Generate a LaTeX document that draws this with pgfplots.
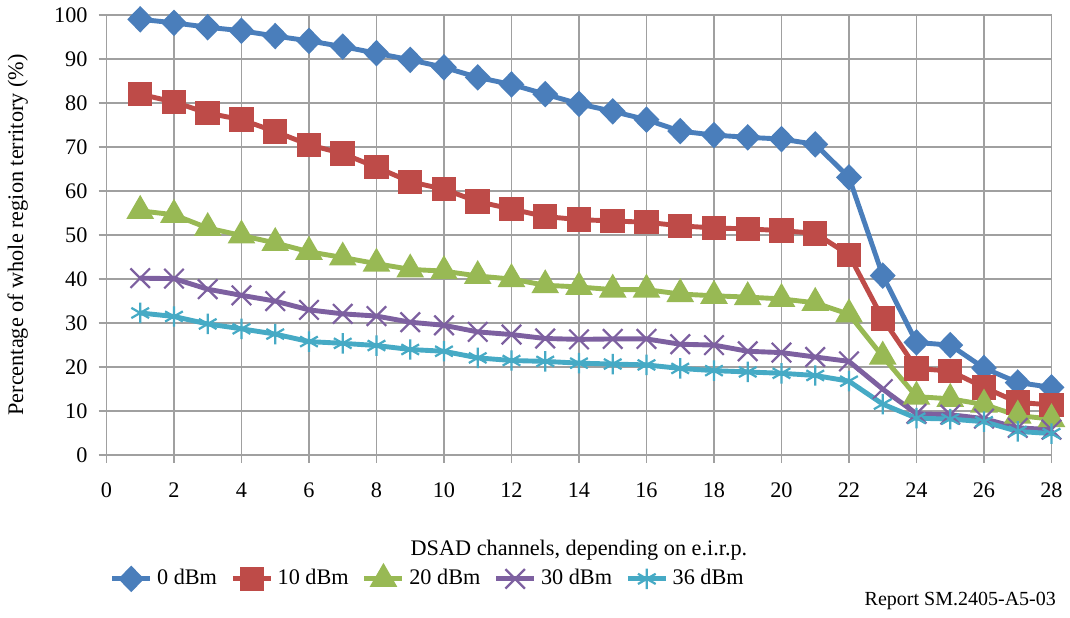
\documentclass[border=0pt]{standalone}
\usepackage{fontspec}
\setmainfont{Liberation Serif}
\usepackage{pgfplots}
\pgfplotsset{compat=1.18}

\definecolor{cBlue}{HTML}{4A7EBB}
\definecolor{cRed}{HTML}{BE4B48}
\definecolor{cGreen}{HTML}{98B954}
\definecolor{cPurple}{HTML}{7D60A0}
\definecolor{cCyan}{HTML}{46AAC5}
\definecolor{gridgray}{RGB}{160,160,160}

\pgfplotstableread{
x   a     b     c     d     e
1   99.0  82.0  55.5  40.2  32.3
2   98.2  80.2  54.6  40.1  31.5
3   97.2  77.7  51.6  37.7  29.8
4   96.4  76.2  49.9  36.3  28.7
5   95.2  73.5  48.2  35.0  27.5
6   94.1  70.5  46.2  33.0  25.8
7   92.8  68.5  44.9  32.1  25.4
8   91.3  65.4  43.5  31.6  24.9
9   89.8  62.1  42.2  30.2  24.0
10  88.1  60.4  41.8  29.5  23.6
11  85.8  57.6  40.7  28.0  22.1
12  84.2  55.9  40.0  27.4  21.5
13  82.0  54.2  38.6  26.5  21.3
14  79.8  53.5  38.2  26.3  20.9
15  78.1  53.2  37.6  26.4  20.7
16  76.2  52.9  37.6  26.4  20.5
17  73.6  52.1  36.6  25.2  19.7
18  72.7  51.6  36.2  25.0  19.2
19  72.2  51.4  35.9  23.6  18.9
20  71.8  51.0  35.5  23.3  18.6
21  70.6  50.4  34.6  22.3  18.1
22  63.1  45.5  32.0  21.3  16.8
23  40.8  31.0  22.4  15.0  11.6
24  25.6  19.7  13.3   9.4   8.4
25  25.0  19.1  12.8   9.2   8.2
26  19.8  15.4  11.5   8.3   7.6
27  16.5  12.0   9.0   6.2   5.4
28  15.4  11.4   8.2   5.8   4.9
}\datatable

\begin{document}
\begin{tikzpicture}
\begin{axis}[
    scale only axis,
    width=425pt, height=198pt,
    xmin=0, xmax=28, ymin=0, ymax=100,
    clip=false,
    xtick={0,2,...,28}, ytick={0,10,...,100},
    grid=major,
    major grid style={gridgray, line width=0.8pt},
    axis line style={gridgray, line width=0.8pt},
    tick style={gridgray, line width=0.8pt},
    tick align=outside,
    major tick length=3.5pt,
    xtick pos=bottom, ytick pos=left,
    /pgf/number format/assume math mode=true,
    ticklabel style={font=\normalsize},
    xticklabel style={yshift=-5.5pt},
    yticklabel style={xshift=-1.5pt},
    xlabel={DSAD channels, depending on e.i.r.p.},
    ylabel={Percentage of whole region territory (\%)},
    xlabel style={at={(axis description cs:0.5,-0.216)}, anchor=center},
    ylabel style={at={(axis description cs:-0.094,0.5)}, anchor=center},
    legend columns=5,
    legend style={at={(axis description cs:-0.004,-0.281)}, anchor=west,
        draw=none, fill=none, font=\normalsize,
        /tikz/every even column/.append style={column sep=4pt}},
    every axis plot/.append style={line width=2.2pt},
]
\addplot[cBlue, mark=diamond*, mark size=4.4pt, mark options={xscale=1.3}] table[x=x,y=a] {\datatable};
\addlegendentry{0 dBm}
\addplot[cRed, mark=square*, mark size=4.4pt] table[x=x,y=b] {\datatable};
\addlegendentry{10 dBm}
\addplot[cGreen, mark=triangle*, mark size=5pt] table[x=x,y=c] {\datatable};
\addlegendentry{20 dBm}
\addplot[cPurple, mark=x, mark size=6.2pt, mark options={line width=1pt}] table[x=x,y=d] {\datatable};
\addlegendentry{30 dBm}
\addplot[cCyan, mark=asterisk, mark size=4.6pt, mark options={line width=1pt}] table[x=x,y=e] {\datatable};
\addlegendentry{36 dBm}
\node[anchor=base east, font=\small] at (rel axis cs:1.013,-0.342) {Report SM.2405-A5-03};
\end{axis}
\end{tikzpicture}
\end{document}
